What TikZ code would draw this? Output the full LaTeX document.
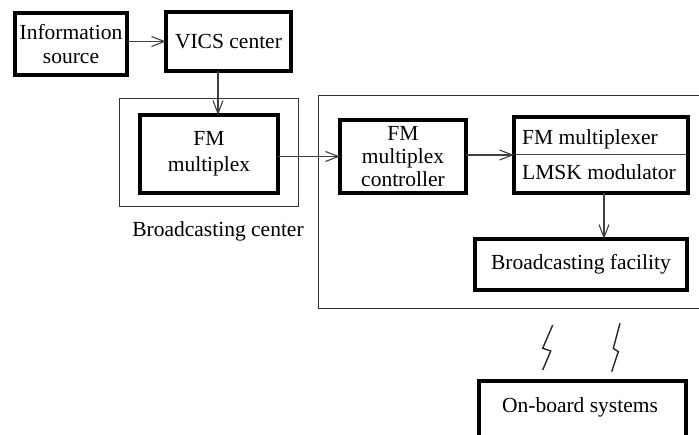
\documentclass[tikz,border=0pt]{standalone}
\usepackage{fontspec}
\setmainfont{Liberation Serif}
\usetikzlibrary{arrows.meta,calc}
\begin{document}
\begin{tikzpicture}[x=1pt,y=-1pt,
  thickbox/.style={draw=black,line width=4pt,inner sep=0pt,outer sep=0pt,align=center,
    font=\fontsize{21.5}{24}\selectfont},
  thinbox/.style={draw=black!80,line width=1pt,inner sep=0pt},
  lbl/.style={inner sep=0pt,font=\fontsize{21.5}{24}\selectfont},
  arr/.style={draw=black!75,line width=1.3pt,-{Straight Barb[length=13pt,width=10pt,line width=1.1pt]}},
  bolt/.style={draw=black!85,line width=1.4pt}]
\useasboundingbox (0,0) rectangle (699,435);
\begin{scope}
\clip (0,0) rectangle (699,435);
% outer thin frames
\node[thinbox,minimum width=179pt,minimum height=108pt] (bc) at (208.5,153) {};
\draw[draw=black!80,line width=1pt] (318,96) rectangle (720,309);
% boxes
\node[thickbox,minimum width=112pt,minimum height=62pt] (info) at (71,44) {Information\\source};
\node[thickbox,minimum width=125pt,minimum height=59pt] (vics) at (228.5,41.5) {VICS center};
\node[thickbox,minimum width=138pt,minimum height=78pt,font=\fontsize{21.5}{26}\selectfont] (fmx) at (209,154) {FM\\multiplex};
\node[thickbox,minimum width=126pt,minimum height=73pt,font=\fontsize{21.5}{23}\selectfont] (ctrl) at (403,156.5) {FM\\multiplex\\controller};
\node[thickbox,minimum width=174pt,minimum height=76pt] (mux) at (601,155) {};
\draw[draw=black!70,line width=1pt] ($(mux.west)+(2,0)$) -- ($(mux.east)+(-2,0)$);
\node[lbl,anchor=base west] (muxa) at (522,145) {FM multiplexer};
\node[lbl,anchor=base west] (muxb) at (522,180) {LMSK modulator};
\node[thickbox,minimum width=212pt,minimum height=51pt] (fac) at (581,264.5) {Broadcasting facility};
\node[thickbox,minimum width=207pt,minimum height=90pt,anchor=north west] (onb) at (479,381) {};
\node[lbl,anchor=base] (onbt) at (580,413) {On-board systems};
\node[lbl] (bcl) at (218,231) {Broadcasting center};
% connectors
\coordinate (a1) at (218,0);
\coordinate (a2) at (604,0);
\draw[arr] (info.east |- vics.west) -- (vics.west);
\draw[arr] (vics.south -| a1) -- (fmx.north -| a1);
\draw[arr] (ctrl.west -| fmx.east) -- (ctrl.west);
\draw[arr] (ctrl.east |- mux.west) -- (mux.west);
\draw[arr] (mux.south -| a2) -- (fac.north -| a2);
% lightning bolts
\draw[bolt] (552.7,325) -- (542.7,348.3) -- (550.7,351) -- (542.7,370);
\draw[bolt] (620,323.3) -- (613.3,348.3) -- (618.3,351.7) -- (611.7,371.7);
\end{scope}
\end{tikzpicture}
\end{document}
